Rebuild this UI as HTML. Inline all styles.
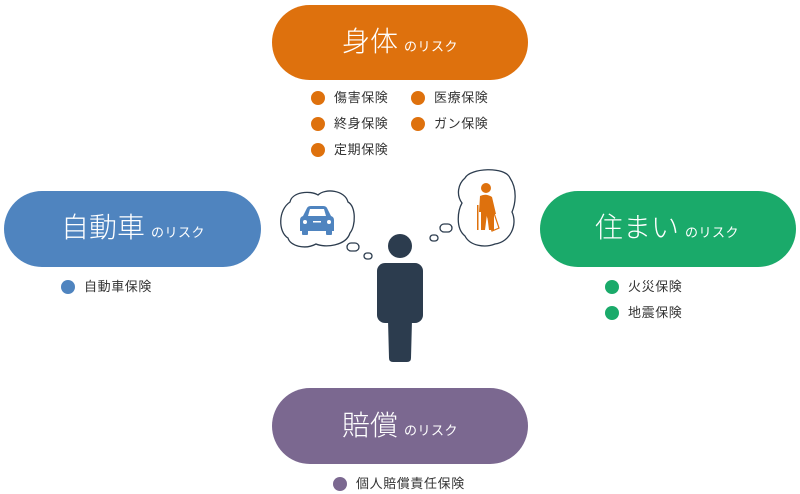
<!DOCTYPE html>
<html><head><meta charset="utf-8"><style>
*{margin:0;padding:0;box-sizing:border-box}
body{width:800px;height:494px;background:#fff;position:relative;overflow:hidden;font-family:"Liberation Sans","Noto Sans CJK JP",sans-serif}
.pill{position:absolute;border-radius:38px;}
.t{position:absolute;color:#fff;white-space:nowrap;line-height:1}
.t b{font-weight:300;font-size:28px}
.t i{font-style:normal;font-size:13px;margin-left:6px;letter-spacing:0.5px}
.li{position:absolute;font-size:13px;color:#333;line-height:14px;white-space:nowrap;letter-spacing:0.6px}
.li:before{content:"";position:absolute;left:-23px;top:0;width:14px;height:14px;border-radius:50%;background:var(--c)}
</style></head><body>
<div class="pill" style="left:272px;top:5px;width:256px;height:75px;background:#de710d"></div>
<div class="pill" style="left:4px;top:191px;width:257px;height:76px;background:#4f84bf"></div>
<div class="pill" style="left:540px;top:191px;width:256px;height:76px;background:#1aaa6a"></div>
<div class="pill" style="left:272px;top:388px;width:256px;height:76px;background:#7b6890"></div>

<div class="t" style="left:342px;top:28px"><b>身体</b><i>のリスク</i></div>
<div class="t" style="left:61px;top:214px"><b>自動車</b><i>のリスク</i></div>
<div class="t" style="left:595px;top:214px"><b>住まい</b><i>のリスク</i></div>
<div class="t" style="left:342px;top:412px"><b>賠償</b><i>のリスク</i></div>

<div class="li" style="--c:#de710d;left:334px;top:91px">傷害保険</div>
<div class="li" style="--c:#de710d;left:434px;top:91px">医療保険</div>
<div class="li" style="--c:#de710d;left:334px;top:117px">終身保険</div>
<div class="li" style="--c:#de710d;left:434px;top:117px">ガン保険</div>
<div class="li" style="--c:#de710d;left:334px;top:143px">定期保険</div>
<div class="li" style="--c:#4f84bf;left:84px;top:280px">自動車保険</div>
<div class="li" style="--c:#1aaa6a;left:628px;top:280px">火災保険</div>
<div class="li" style="--c:#1aaa6a;left:628px;top:306px">地震保険</div>
<div class="li" style="--c:#7b6890;left:356px;top:477px">個人賠償責任保険</div>

<svg width="800" height="494" style="position:absolute;left:0;top:0">
<g fill="#fff" stroke="#2c3c4e" stroke-width="1.3">
<path d="M290,202 C292,192 310,190 318,195 C325,188 345,190 348,202 C356,206 356,226 350,233 C346,246 325,248 316,244 C305,250 290,246 288,238 C278,232 278,210 290,202 Z"/>
<rect x="347" y="243" width="12" height="8" rx="4"/>
<rect x="364" y="253" width="8" height="6" rx="3"/>
<path d="M465,178 C470,168 505,166 510,178 C518,190 515,205 512,212 C518,225 510,242 495,244 C485,248 470,246 465,236 C455,228 458,210 462,203 C456,195 458,184 465,178 Z"/>
<rect x="440" y="224" width="12" height="8" rx="4"/>
<rect x="430" y="235" width="8" height="6" rx="3"/>
</g>
<g fill="#4f84bf">
<path d="M303,216 L307,208 Q308,206 311,206 L323,206 Q326,206 327,208 L331,216 Q334,217 334,220 L334,231 L300,231 L300,220 Q300,217 303,216 Z"/>
<rect x="302" y="229" width="6" height="6" rx="1"/><rect x="326" y="229" width="6" height="6" rx="1"/>
</g>
<path d="M308,216 L310,209 L324,209 L326,216 Z" fill="#fff"/>
<circle cx="305" cy="222" r="2" fill="#fff"/><circle cx="329" cy="222" r="2" fill="#fff"/>
<rect x="313" y="221" width="8" height="1.5" fill="#fff"/>
<g fill="#de710d">
<circle cx="486" cy="188" r="5"/>
<path d="M480,196 Q486,193 492,197 L496,214 L494,214 L494,230 L489,230 L487,214 L485,230 L481,230 L481,212 L479,212 Z"/>
<rect x="477" y="205" width="1.5" height="25"/>
</g>
<path d="M487,215 L494,213 L499,228 L492,231 Z" fill="none" stroke="#de710d" stroke-width="1.2"/>
<g fill="#2c3c4e">
<circle cx="400" cy="246" r="12"/>
<rect x="377" y="263" width="46" height="60" rx="8"/>
<path d="M388,320 L412,320 L411,358 Q411,362 407,362 L393,362 Q389,362 389,358 Z"/>
</g>
</svg>
</body></html>
